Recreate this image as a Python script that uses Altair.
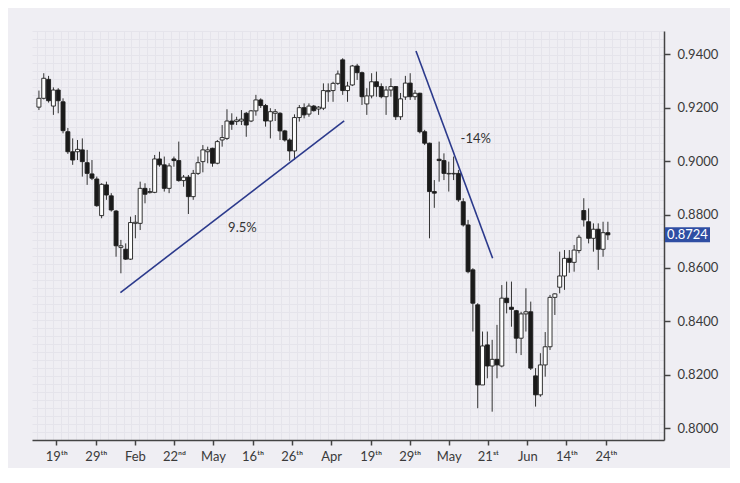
import altair as alt
import pandas as pd

# ---- candle data ----
opens = [0.9202, 0.9235, 0.9306, 0.9206, 0.9266, 0.9222, 0.9110, 0.9035, 0.9035, 0.9042,
         0.8994, 0.8952, 0.8933, 0.8796, 0.8911, 0.8870, 0.8813, 0.8677, 0.8670, 0.8633,
         0.8767, 0.8767, 0.8898, 0.8882, 0.8883, 0.9008, 0.8986, 0.8898, 0.9008, 0.9002,
         0.8927, 0.8940, 0.8867, 0.8954, 0.8998, 0.9035, 0.9048, 0.8992, 0.9079, 0.9085,
         0.9150, 0.9148, 0.9150, 0.9179, 0.9150, 0.9188, 0.9229, 0.9208, 0.9150, 0.9179,
         0.9179, 0.9113, 0.9079, 0.9038, 0.9163, 0.9200, 0.9176, 0.9206, 0.9195, 0.9198,
         0.9260, 0.9264, 0.9291, 0.9379, 0.9264, 0.9285, 0.9356, 0.9331, 0.9214, 0.9244,
         0.9297, 0.9279, 0.9241, 0.9266, 0.9279, 0.9166, 0.9240, 0.9292, 0.9241, 0.9254,
         0.9110, 0.9067, 0.8886, 0.9007, 0.9002, 0.8952, 0.8952, 0.8954, 0.8848, 0.8761,
         0.8593, 0.8462, 0.8162, 0.8312, 0.8233, 0.8258, 0.8233, 0.8487, 0.8453, 0.8440,
         0.8337, 0.8428, 0.8436, 0.8196, 0.8125, 0.8237, 0.8305, 0.8490, 0.8528, 0.8570,
         0.8636, 0.8621, 0.8665, 0.8815, 0.8773, 0.8711, 0.8745, 0.8670, 0.8732]
highs = [0.9264, 0.9329, 0.9319, 0.9276, 0.9273, 0.9235, 0.9124, 0.9085, 0.9079, 0.9085,
         0.9042, 0.9004, 0.8942, 0.8917, 0.8923, 0.8880, 0.8817, 0.8705, 0.8692, 0.8792,
         0.8798, 0.8923, 0.8917, 0.8899, 0.9023, 0.9035, 0.9017, 0.8992, 0.9017, 0.9073,
         0.8948, 0.8948, 0.8967, 0.9017, 0.9060, 0.9054, 0.9050, 0.9079, 0.9135, 0.9194,
         0.9179, 0.9166, 0.9191, 0.9184, 0.9191, 0.9248, 0.9235, 0.9214, 0.9198, 0.9195,
         0.9183, 0.9117, 0.9085, 0.9175, 0.9210, 0.9216, 0.9216, 0.9210, 0.9206, 0.9291,
         0.9291, 0.9297, 0.9339, 0.9385, 0.9297, 0.9360, 0.9364, 0.9335, 0.9273, 0.9329,
         0.9335, 0.9291, 0.9281, 0.9310, 0.9281, 0.9255, 0.9319, 0.9329, 0.9266, 0.9256,
         0.9117, 0.9069, 0.8929, 0.9073, 0.9029, 0.8998, 0.9017, 0.8967, 0.8861, 0.8780,
         0.8599, 0.8468, 0.8362, 0.8362, 0.8331, 0.8387, 0.8536, 0.8549, 0.8549, 0.8443,
         0.8436, 0.8524, 0.8474, 0.8225, 0.8281, 0.8360, 0.8499, 0.8505, 0.8661, 0.8667,
         0.8667, 0.8686, 0.8724, 0.8861, 0.8823, 0.8767, 0.8767, 0.8773, 0.8773]
lows = [0.9191, 0.9231, 0.9219, 0.9173, 0.9179, 0.9104, 0.9027, 0.8986, 0.9004, 0.8942,
        0.8911, 0.8929, 0.8829, 0.8786, 0.8855, 0.8811, 0.8642, 0.8580, 0.8630, 0.8630,
        0.8711, 0.8742, 0.8842, 0.8879, 0.8880, 0.8979, 0.8886, 0.8880, 0.8979, 0.8923,
        0.8904, 0.8802, 0.8855, 0.8948, 0.8958, 0.8992, 0.8979, 0.8988, 0.9054, 0.9079,
        0.9117, 0.9135, 0.9135, 0.9091, 0.9146, 0.9170, 0.9199, 0.9129, 0.9085, 0.9150,
        0.9079, 0.9073, 0.9001, 0.9004, 0.9148, 0.9160, 0.9166, 0.9185, 0.9173, 0.9191,
        0.9222, 0.9222, 0.9285, 0.9248, 0.9222, 0.9281, 0.9304, 0.9210, 0.9173, 0.9235,
        0.9241, 0.9235, 0.9173, 0.9241, 0.9154, 0.9154, 0.9229, 0.9229, 0.9229, 0.9104,
        0.9060, 0.8711, 0.8825, 0.8923, 0.8929, 0.8886, 0.8929, 0.8848, 0.8755, 0.8580,
        0.8362, 0.8075, 0.8162, 0.8187, 0.8062, 0.8187, 0.8228, 0.8430, 0.8380, 0.8281,
        0.8274, 0.8362, 0.8218, 0.8081, 0.8118, 0.8193, 0.8293, 0.8424, 0.8505, 0.8518,
        0.8582, 0.8586, 0.8655, 0.8755, 0.8692, 0.8661, 0.8593, 0.8642, 0.8705]
closes = [0.9235, 0.9310, 0.9226, 0.9266, 0.9226, 0.9114, 0.9035, 0.9004, 0.9044, 0.8998,
          0.8954, 0.8936, 0.8833, 0.8913, 0.8873, 0.8817, 0.8683, 0.8683, 0.8633, 0.8770,
          0.8771, 0.8898, 0.8876, 0.8886, 0.9008, 0.8986, 0.8898, 0.8982, 0.9002, 0.8927,
          0.8940, 0.8867, 0.8954, 0.8994, 0.9042, 0.9042, 0.8992, 0.9073, 0.9088, 0.9150,
          0.9138, 0.9154, 0.9157, 0.9135, 0.9188, 0.9229, 0.9208, 0.9150, 0.9185, 0.9185,
          0.9113, 0.9079, 0.9038, 0.9163, 0.9200, 0.9173, 0.9206, 0.9189, 0.9202, 0.9264,
          0.9264, 0.9291, 0.9326, 0.9264, 0.9281, 0.9356, 0.9331, 0.9241, 0.9244, 0.9297,
          0.9279, 0.9241, 0.9266, 0.9279, 0.9166, 0.9233, 0.9292, 0.9241, 0.9254, 0.9110,
          0.9067, 0.8886, 0.8880, 0.9002, 0.8954, 0.8954, 0.8954, 0.8855, 0.8761, 0.8586,
          0.8468, 0.8162, 0.8308, 0.8233, 0.8258, 0.8237, 0.8487, 0.8470, 0.8445, 0.8337,
          0.8428, 0.8436, 0.8225, 0.8125, 0.8237, 0.8305, 0.8490, 0.8503, 0.8570, 0.8636,
          0.8621, 0.8667, 0.8715, 0.8780, 0.8711, 0.8745, 0.8670, 0.8732, 0.8724]

# ---- axis ticks ----
tick_pos = [3.6, 11.8, 19.9, 28.0, 36.1, 44.3, 52.4, 60.6, 68.8, 76.9, 85.0, 93.1, 101.3, 109.4, 117.6]
tick_labels = ["19ᵗʰ", "29ᵗʰ", "Feb", "22ⁿᵈ", "May", "16ᵗʰ", "26ᵗʰ", "Apr",
               "19ᵗʰ", "29ᵗʰ", "May", "21ˢᵗ", "Jun", "14ᵗʰ", "24ᵗʰ"]
y_ticks = [0.80, 0.82, 0.84, 0.86, 0.88, 0.90, 0.92, 0.94]

# ---- annotations ----
trend_seg = ["up", "up", "down", "down"]
trend_x = [16.9, 63.3, 78.2, 94.1]
trend_y = [0.8508, 0.9151, 0.9412, 0.8636]
note_text = ["9.5%", "-14%"]
note_x = [42.2, 90.6]
note_y = [0.8750, 0.9083]

FONT = "Lato"
BG = "#efeef3"

df = pd.DataFrame({"i": list(range(len(opens))), "open": opens, "high": highs,
                   "low": lows, "close": closes})
trend_df = pd.DataFrame({"seg": trend_seg, "x": trend_x, "y": trend_y})
note_df = pd.DataFrame({"t": note_text, "x": note_x, "y": note_y})
last_df = pd.DataFrame({"v": [closes[-1]], "t": [f"{closes[-1]:.4f}"]})

xs = alt.Scale(domain=[-0.4, 128.6], nice=False, zero=False)
ys = alt.Scale(domain=[0.7956, 0.9487], nice=False, zero=False)

grid_x = [-0.4 + k * 1.6327 for k in range(80)]
grid_y = [0.7956 + k * 0.0030 for k in range(52)]

labels_js = "[" + ",".join(f"'{l}'" for l in tick_labels) + "]"
pos_js = "[" + ",".join(str(p) for p in tick_pos) + "]"

base = alt.Chart(df)

wicks = base.mark_rule(color="#333333", strokeWidth=1).encode(
    x=alt.X("i:Q", scale=xs, axis=alt.Axis(orient="top", grid=True, values=grid_x,
                                          labels=False, ticks=False, domain=False,
                                          gridColor="#e5e4eb", gridWidth=1, title=None)),
    y=alt.Y("low:Q", scale=ys, axis=alt.Axis(orient="left", grid=True, values=grid_y,
                                            labels=False, ticks=False, domain=False,
                                            gridColor="#e5e4eb", gridWidth=1, title=None)),
    y2="high:Q",
)

bodies = base.mark_bar(size=4, stroke="#1e1e1e", strokeWidth=0.9).encode(
    x=alt.X("i:Q", scale=xs, axis=alt.Axis(
        orient="bottom", values=tick_pos, labelExpr=f"{labels_js}[indexof({pos_js}, datum.value)]",
        grid=False, title=None, tickSize=5, tickWidth=1.5, tickColor="#444444",
        domainColor="#444444", domainWidth=1.5, labelFont=FONT, labelFontSize=13,
        labelColor="#3a3a3a", labelPadding=5)),
    y=alt.Y("open:Q", scale=ys, axis=alt.Axis(
        orient="right", values=y_ticks, format=".4f", grid=False, title=None,
        tickSize=6, tickWidth=1.5, tickColor="#444444", domainColor="#444444",
        domainWidth=1.5, labelFont=FONT, labelFontSize=13, labelColor="#3a3a3a",
        labelPadding=7)),
    y2="close:Q",
    fill=alt.condition("datum.close < datum.open", alt.value("#1a1a1a"), alt.value("#fdfdfd")),
)

trends = alt.Chart(trend_df).mark_line(color="#2c3a8c", strokeWidth=1.6).encode(
    x=alt.X("x:Q", scale=xs, axis=None), y=alt.Y("y:Q", scale=ys, axis=None), detail="seg:N")

notes = alt.Chart(note_df).mark_text(font=FONT, fontSize=13, color="#333333").encode(
    x=alt.X("x:Q", scale=xs, axis=None), y=alt.Y("y:Q", scale=ys, axis=None), text="t:N")

box = alt.Chart(last_df).mark_tick(orient="horizontal", thickness=15, size=45,
                                   color="#2f4ea3", opacity=1).encode(
    x=alt.value(655.5), y=alt.Y("v:Q", scale=ys, axis=None))

box_text = alt.Chart(last_df).mark_text(font=FONT, fontSize=13, color="white",
                                        align="center", baseline="middle").encode(
    x=alt.value(655.5), y=alt.Y("v:Q", scale=ys, axis=None), text="t:N")

chart = alt.layer(wicks, bodies, trends, notes, box, box_text).resolve_axis(
    x="independent", y="independent"
).properties(
    width=632, height=409, background=BG,
    padding={"left": 24, "top": 23, "right": 12, "bottom": 5},
).configure_view(stroke=None)

chart.save("out.html", embed_options={"renderer": "svg", "actions": False})
